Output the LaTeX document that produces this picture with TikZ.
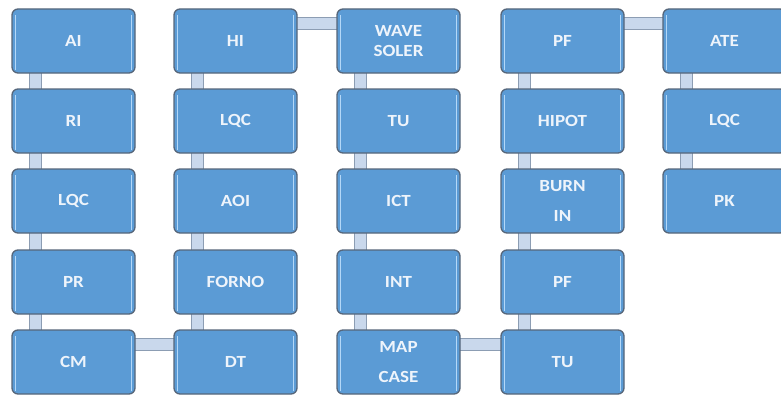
\documentclass[tikz,border=0pt]{standalone}
\usepackage{fontspec}
\setmainfont{Carlito}[FakeStretch=1.12]
\usetikzlibrary{calc,backgrounds}

\definecolor{boxfill}{HTML}{5B9BD5}
\definecolor{boxedge}{HTML}{56667A}
\definecolor{boxshine}{HTML}{B4D8F8}
\definecolor{boxtext}{HTML}{EEF4FB}
\definecolor{linkfill}{HTML}{C9D8EC}
\definecolor{linkedge}{HTML}{8C9DB3}

\tikzset{
  stage/.style={rectangle, rounded corners=6pt, fill=boxfill, draw=boxedge,
    line width=1.3pt, minimum width=123pt, minimum height=64pt, inner sep=0pt,
    text=boxtext, align=center,
    font=\bfseries\fontsize{17}{20}\selectfont,
    path picture={
      \draw[boxshine, line width=1.6pt]
        ([xshift=3.5pt,yshift=-6pt]path picture bounding box.north west) --
        ([xshift=3.5pt,yshift=3pt]path picture bounding box.south west);
      \draw[boxshine, line width=1.6pt]
        ([xshift=-3.5pt,yshift=-6pt]path picture bounding box.north east) --
        ([xshift=-3.5pt,yshift=3pt]path picture bounding box.south east);
    }},
  link/.style={draw=linkedge, line width=1pt, double=linkfill,
    double distance=10.5pt}
}

\begin{document}
\begin{tikzpicture}[x=1pt,y=1pt]
\useasboundingbox (0,0) rectangle (781,-396);
\clip (0,0) rectangle (781,-396);

% first column
\node[stage] (ai)    at (73.5,-41)  {AI};
\node[stage] (ri)    at (73.5,-121) {RI};
\node[stage] (lqca)  at (73.5,-201) {LQC};
\node[stage] (pr)    at (73.5,-282) {PR};
\node[stage] (cm)    at (73.5,-362) {CM};

% second column
\node[stage] (hi)    at (235.5,-41)  {HI};
\node[stage] (lqcb)  at (235.5,-121) {LQC};
\node[stage] (aoi)   at (235.5,-201) {AOI};
\node[stage] (forno) at (235.5,-282) {FORNO};
\node[stage] (dt)    at (235.5,-362) {DT};

% third column
\node[stage] (wave)  at (398.5,-41)  {WAVE\\SOLER};
\node[stage] (tua)   at (398.5,-121) {TU};
\node[stage] (ict)   at (398.5,-201) {ICT};
\node[stage] (int)   at (398.5,-282) {INT};
\node[stage] (map)   at (398.5,-362) {MAP\\[10pt]CASE};

% fourth column
\node[stage] (pfa)   at (562.5,-41)  {PF};
\node[stage] (hipot) at (562.5,-121) {HIPOT};
\node[stage] (burn)  at (562.5,-201) {BURN\\[10pt]IN};
\node[stage] (pfb)   at (562.5,-282) {PF};
\node[stage] (tub)   at (562.5,-362) {TU};

% fifth column
\node[stage] (ate)   at (724.5,-41)  {ATE};
\node[stage] (lqcc)  at (724.5,-121) {LQC};
\node[stage] (pk)    at (724.5,-201) {PK};

\begin{scope}[on background layer]
  % vertical links inside each column
  \foreach \a/\b in {ai/ri, ri/lqca, lqca/pr, pr/cm,
                     hi/lqcb, lqcb/aoi, aoi/forno, forno/dt,
                     wave/tua, tua/ict, ict/int, int/map,
                     pfa/hipot, hipot/burn, burn/pfb, pfb/tub,
                     ate/lqcc, lqcc/pk}
    \draw[link] ($(\a.south west)+(24,2)$) -- ($(\b.north west)+(24,-2)$);
  % horizontal links between columns
  \foreach \a/\b in {cm/dt, hi/wave, map/tub, pfa/ate}
    \draw[link] ($(\a.north east)+(-2,-15)$) -- ($(\b.north west)+(2,-15)$);
\end{scope}
\end{tikzpicture}
\end{document}
